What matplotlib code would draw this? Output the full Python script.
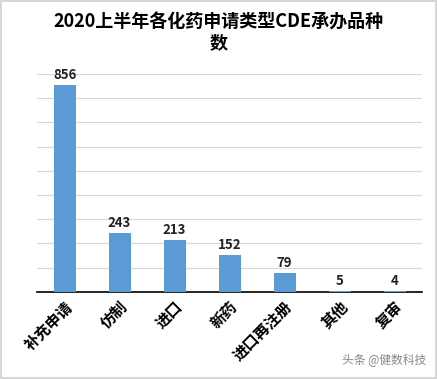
import matplotlib.pyplot as plt

plt.rcParams['font.family'] = ['Noto Sans CJK SC', 'DejaVu Sans']

categories = ["补充申请", "仿制", "进口", "新药", "进口再注册", "其他", "复审"]
counts = [856, 243, 213, 152, 79, 5, 4]

fig = plt.figure(figsize=(4.37, 3.79), dpi=100)
ax = fig.add_axes([0.0847, 0.2303, 0.881, 0.5744])

x = range(len(categories))
bars = ax.bar(x, counts, width=0.4, color='#5b9bd5', zorder=3)

for xi, v in zip(x, counts):
    ax.text(xi, v + 12, str(v), ha='center', va='bottom',
            fontsize=9.5, fontweight='bold', color='#222222')

ax.set_ylim(0, 900)
ax.set_xlim(-0.5, len(categories) - 0.5)
ax.set_yticks(range(100, 1000, 100))
ax.yaxis.grid(True, color='#d9d9d9', linewidth=0.8, zorder=0)
ax.tick_params(axis='y', length=0, labelleft=False)
ax.tick_params(axis='x', length=0, pad=5)
ax.set_xticks(list(x))
ax.set_xticklabels(categories, rotation=45, ha='right', rotation_mode='anchor',
                   fontsize=11, fontweight='semibold')
for side in ['top', 'right', 'left']:
    ax.spines[side].set_visible(False)
ax.spines['bottom'].set_color('black')
ax.spines['bottom'].set_linewidth(1.2)

fig.text(0.5, 0.915, "2020上半年各化药申请类型CDE承办品种\n数", ha='center', va='center',
         fontsize=13, fontweight='bold', linespacing=1.15)

fig.text(0.975, 0.035, "头条 @健数科技", ha='right', va='bottom',
         fontsize=8.5, color='#888888')

fig.patches.append(plt.Rectangle((0.003, 0.003), 0.994, 0.994, transform=fig.transFigure,
                                 fill=False, edgecolor='#d0d0d0', linewidth=1.2))

fig.savefig('out.png', dpi=100)
